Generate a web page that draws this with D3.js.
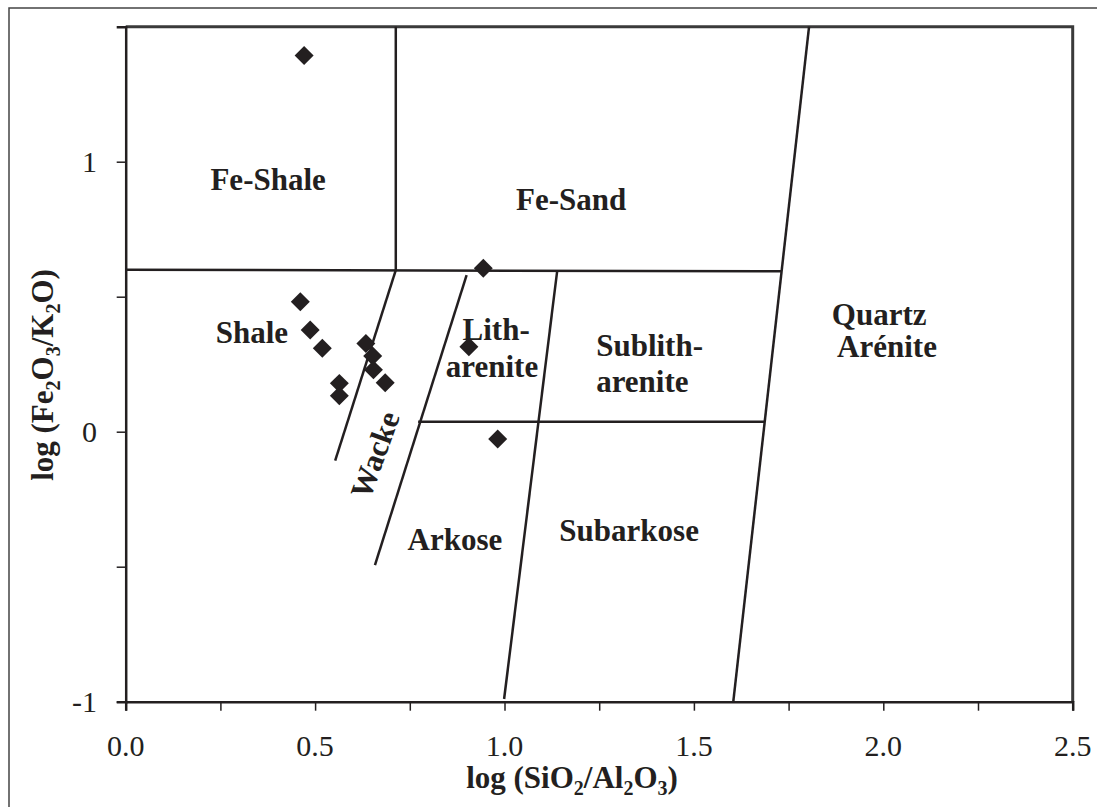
<!DOCTYPE html>
<html>
<head>
<meta charset="utf-8">
<script src="https://cdn.jsdelivr.net/npm/d3@7"></script>
<style>
  body { margin: 0; background: #fff; }
  svg text { font-family: "Liberation Serif", "Times New Roman", serif; }
</style>
</head>
<body>
<div id="chart"></div>
<script>
// sample values
const xVals = [0.471, 0.461, 0.487, 0.519, 0.564, 0.564, 0.634, 0.652, 0.654, 0.685, 0.944, 0.906, 0.982];
const yVals = [1.393, 0.481, 0.377, 0.309, 0.179, 0.133, 0.327, 0.280, 0.229, 0.181, 0.605, 0.315, -0.027];

// classification field boundaries [x1, y1, x2, y2]
const boundaries = [
  [0, 0.600, 1.732, 0.594],
  [0.713, 1.5, 0.713, 0.598],
  [1.804, 1.5, 1.604, -1],
  [1.139, 0.595, 0.999, -0.99],
  [0.900, 0.580, 0.658, -0.494],
  [0.713, 0.598, 0.553, -0.107],
  [0.772, 0.037, 1.687, 0.037]
];

// field names and where they sit
const fieldLabels = [
  { text: "Fe-Shale", x: 0.376, y: 0.894, anchor: "middle" },
  { text: "Fe-Sand", x: 1.176, y: 0.821, anchor: "middle" },
  { text: "Shale", x: 0.333, y: 0.330, anchor: "middle" },
  { text: "Lith-", x: 0.978, y: 0.340, anchor: "middle" },
  { text: "arenite", x: 0.967, y: 0.204, anchor: "middle" },
  { text: "Sublith-", x: 1.242, y: 0.280, anchor: "start" },
  { text: "arenite", x: 1.242, y: 0.148, anchor: "start" },
  { text: "Quartz", x: 1.864, y: 0.397, anchor: "start" },
  { text: "Arénite", x: 1.878, y: 0.277, anchor: "start" },
  { text: "Arkose", x: 0.869, y: -0.438, anchor: "middle" },
  { text: "Subarkose", x: 1.329, y: -0.404, anchor: "middle" }
];

const xTicks = [0, 0.25, 0.5, 0.75, 1, 1.25, 1.5, 1.75, 2, 2.25, 2.5];
const xTickLabels = [0, 0.5, 1, 1.5, 2, 2.5];
const yTicks = [-1, -0.5, 0, 0.5, 1];
const yTickLabels = [-1, 0, 1];

const width = 1097, height = 807;
const ink = "#231f20";
const serif = "'Liberation Serif', 'Times New Roman', serif";

const svg = d3.select("#chart").append("svg")
  .attr("width", width)
  .attr("height", height);

// outer frame
svg.append("rect")
  .attr("x", 9).attr("y", 8)
  .attr("width", 1200).attr("height", 900)
  .attr("fill", "none")
  .attr("stroke", "#444")
  .attr("stroke-width", 1.5);

const x = d3.scaleLinear().domain([0, 2.5]).range([125.7, 1072.7]);
const y = d3.scaleLinear().domain([-1, 1.5]).range([701.7, 26.7]);

// top and right border of the plot
svg.append("path")
  .attr("d", `M${x(0)},${y(1.5)}H${x(2.5)}V${y(-1)}`)
  .attr("fill", "none")
  .attr("stroke", "#3a3a3a")
  .attr("stroke-width", 3);

// x axis
const xAxis = svg.append("g")
  .attr("transform", `translate(0,${y(-1)})`)
  .call(d3.axisBottom(x).tickValues(xTicks).tickSize(9).tickFormat(""));
xAxis.select(".domain").attr("stroke", ink).attr("stroke-width", 2.5);
xAxis.selectAll(".tick line").attr("stroke", ink).attr("stroke-width", 1.5);

svg.append("g").selectAll("text")
  .data(xTickLabels)
  .join("text")
  .attr("x", d => x(d))
  .attr("y", 756)
  .attr("text-anchor", "middle")
  .attr("font-family", serif)
  .attr("font-size", 30)
  .attr("fill", ink)
  .text(d => d3.format(".1f")(d));

// y axis
const yAxis = svg.append("g")
  .attr("transform", `translate(${x(0)},0)`)
  .call(d3.axisLeft(y).tickValues(yTicks).tickSize(9).tickFormat(""));
yAxis.select(".domain").attr("stroke", ink).attr("stroke-width", 2.5);
yAxis.selectAll(".tick line").attr("stroke", ink).attr("stroke-width", 1.5);

svg.append("g").selectAll("text")
  .data(yTickLabels)
  .join("text")
  .attr("x", 97)
  .attr("y", d => y(d) + 10.5)
  .attr("text-anchor", "end")
  .attr("font-family", serif)
  .attr("font-size", 30)
  .attr("fill", ink)
  .text(d => d);

// field boundaries
svg.append("g").selectAll("line")
  .data(boundaries)
  .join("line")
  .attr("x1", d => x(d[0]))
  .attr("y1", d => y(d[1]))
  .attr("x2", d => x(d[2]))
  .attr("y2", d => y(d[3]))
  .attr("stroke", ink)
  .attr("stroke-width", 2.5);

// field names
svg.append("g").selectAll("text")
  .data(fieldLabels)
  .join("text")
  .attr("x", d => x(d.x))
  .attr("y", d => y(d.y))
  .attr("text-anchor", d => d.anchor)
  .attr("font-family", serif)
  .attr("font-size", 31)
  .attr("font-weight", "bold")
  .attr("fill", ink)
  .text(d => d.text);

svg.append("text")
  .attr("transform", `translate(${x(0.658)},${y(-0.086)}) rotate(-70)`)
  .attr("text-anchor", "middle")
  .attr("dominant-baseline", "central")
  .attr("font-family", serif)
  .attr("font-size", 31)
  .attr("font-weight", "bold")
  .attr("fill", ink)
  .text("Wacke");

// samples
svg.append("g").selectAll("path")
  .data(xVals.map((v, i) => [v, yVals[i]]))
  .join("path")
  .attr("d", d3.symbol(d3.symbolSquare, 180))
  .attr("transform", d => `translate(${x(d[0])},${y(d[1])}) rotate(45)`)
  .attr("fill", ink);

// axis titles with subscripts
function titleText(sel, parts) {
  parts.forEach(p => {
    if (p.sub) {
      sel.append("tspan").attr("font-size", 20).attr("baseline-shift", "-7px").text(p.t);
    } else {
      sel.append("tspan").text(p.t);
    }
  });
}

const xTitle = svg.append("text")
  .attr("x", 572).attr("y", 788)
  .attr("text-anchor", "middle")
  .attr("font-family", serif)
  .attr("font-size", 31)
  .attr("font-weight", "bold")
  .attr("fill", ink);
titleText(xTitle, [{t: "log (SiO"}, {t: "2", sub: true}, {t: "/Al"}, {t: "2", sub: true}, {t: "O"}, {t: "3", sub: true}, {t: ")"}]);

const yTitle = svg.append("text")
  .attr("transform", "translate(53,375) rotate(-90)")
  .attr("text-anchor", "middle")
  .attr("font-family", serif)
  .attr("font-size", 31)
  .attr("font-weight", "bold")
  .attr("fill", ink);
titleText(yTitle, [{t: "log (Fe"}, {t: "2", sub: true}, {t: "O"}, {t: "3", sub: true}, {t: "/K"}, {t: "2", sub: true}, {t: "O)"}]);
</script>
</body>
</html>
